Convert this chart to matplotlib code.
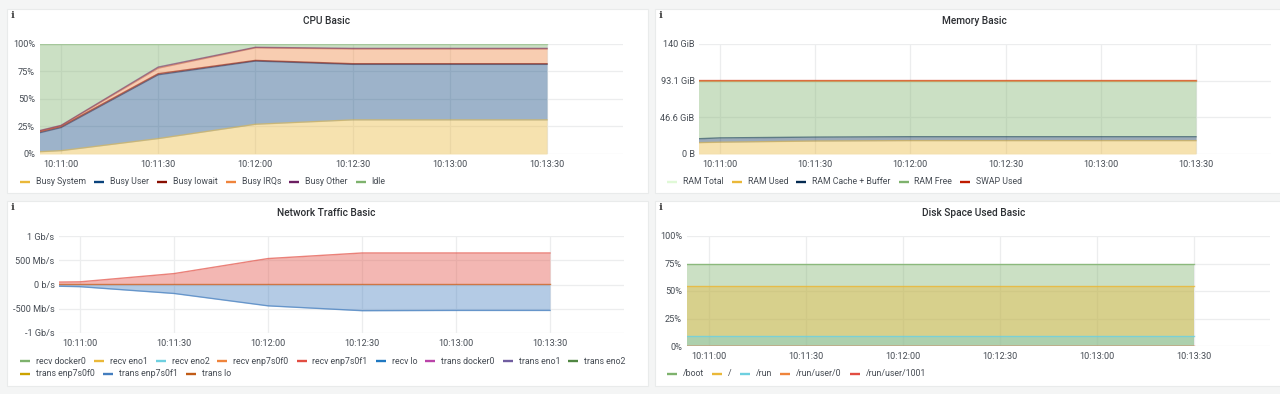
import matplotlib
matplotlib.use('Agg')
import matplotlib.pyplot as plt
from matplotlib.lines import Line2D
from matplotlib.patches import Rectangle
import numpy as np

W, H = 1280, 394
plt.rcParams['font.family'] = ['Roboto', 'DejaVu Sans']

# seconds relative to 10:11:00
times = [-7, 0, 30, 60, 90, 120, 150]
tick_secs = [0, 30, 60, 90, 120, 150]
tick_labels = ['10:11:00', '10:11:30', '10:12:00', '10:12:30', '10:13:00', '10:13:30']

cpu_labels = ['Busy System', 'Busy User', 'Busy Iowait', 'Busy IRQs', 'Busy Other', 'Idle']
cpu_colors = ['#EAB839', '#0A437C', '#890F02', '#EF843C', '#6D1F62', '#7EB26D']
cpu_system = [2, 3, 14, 27, 31, 31, 31]
cpu_user = [17, 21, 58, 57.5, 50.5, 50.5, 50.5]
cpu_iowait = [1, 1, 1, 0.6, 0.6, 0.6, 0.6]
cpu_irq = [0.6, 0.6, 5, 11.4, 13.4, 13.4, 13.4]
cpu_other = [0.4, 0.4, 1, 0.5, 0.5, 0.5, 0.5]
cpu_idle = [79, 74, 21, 3, 4, 4, 4]

mem_labels = ['RAM Total', 'RAM Used', 'RAM Cache + Buffer', 'RAM Free', 'SWAP Used']
mem_colors = ['#E0F9D7', '#EAB839', '#052B51', '#7EB26D', '#BF1B00']
mem_total = [93.1] * 7
mem_used = [14.4, 15, 16.5, 17, 17, 17, 17]
mem_cache = [5, 5.5, 5, 5, 5, 5, 5]
mem_free = [73.7, 72.6, 71.6, 71.1, 71.1, 71.1, 71.1]
mem_swap = [0.6] * 7

net_labels = ['recv docker0', 'recv eno1', 'recv eno2', 'recv enp7s0f0', 'recv enp7s0f1', 'recv lo',
              'trans docker0', 'trans eno1', 'trans eno2',
              'trans enp7s0f0', 'trans enp7s0f1', 'trans lo']
net_colors = ['#7EB26D', '#EAB839', '#6ED0E0', '#EF843C', '#E24D42', '#1F78C1',
              '#BA43A9', '#705DA0', '#508642', '#CCA300', '#447EBF', '#C15C17']
recv_f1 = [50, 55, 225, 535, 650, 650, 650]
trans_f1 = [-35, -45, -185, -440, -540, -535, -535]
lo_line = [5, 5, 5, 5, 5, 5, 5]

disk_labels = ['/boot', '/', '/run', '/run/user/0', '/run/user/1001']
disk_colors = ['#7EB26D', '#EAB839', '#6ED0E0', '#EF843C', '#E24D42']
disk_boot = [74.9] * 7
disk_root = [54.6] * 7
disk_run = [9] * 7
disk_user0 = [0.4] * 7
disk_user1001 = [0.4] * 7

fig = plt.figure(figsize=(W / 100, H / 100), dpi=100, facecolor='#f4f5f5')


def fx(x):
    return x / W


def fy(y):
    return 1 - y / H


def make_panel(x0, x1, y0, y1, title, title_x, title_y):
    fig.add_artist(Rectangle((fx(x0), fy(y1)), (x1 - x0) / W, (y1 - y0) / H, transform=fig.transFigure,
                             facecolor='white', edgecolor='#e9ebeb', linewidth=0.8, zorder=-1))
    fig.text(fx(title_x), fy(title_y), title, ha='center', va='center', fontsize=7.3,
             fontweight='medium', color='#2c2f33')
    fig.text(fx(x0 + 5.5), fy(y0 + 6), 'i', ha='center', va='center', fontsize=7.5,
             family='DejaVu Serif', fontweight='bold', color='#444444')


def make_axes(left, zero_x, step, top, bottom, ylim, yticks, yticklabels):
    # xlim follows the pixel position of the 10:11:00 tick and the 30 s spacing
    per_sec = step / 30
    x_min = -(zero_x - left) / per_sec
    x_max = 173.5
    width = (x_max - x_min) * per_sec
    ax = fig.add_axes([fx(left), fy(bottom), width / W, (bottom - top) / H])
    ax.set_xlim(x_min, x_max)
    ax.set_ylim(*ylim)
    ax.patch.set_alpha(0)
    for s in ax.spines.values():
        s.set_visible(False)
    ax.set_xticks(tick_secs, tick_labels)
    ax.set_yticks(yticks, yticklabels)
    ax.tick_params(length=0, labelsize=6.6, labelcolor='#464c54')
    ax.tick_params(axis='x', pad=4.5)
    ax.tick_params(axis='y', pad=3.2)
    ax.grid(True, color='#ecedee', linewidth=0.9)
    ax.set_axisbelow(True)
    return ax


def legend_row(x, y, labels, colors):
    renderer = fig.canvas.get_renderer()
    for label, color in zip(labels, colors):
        fig.add_artist(Line2D([fx(x), fx(x + 10)], [fy(y), fy(y)], transform=fig.transFigure,
                              color=color, linewidth=1.7, solid_capstyle='butt'))
        t = fig.text(fx(x + 16), fy(y), label, ha='left', va='center', fontsize=6.35, color='#464c54')
        x = t.get_window_extent(renderer).x1 + 8


def area(ax, base, top, color, line_alpha=0.55):
    ax.fill_between(times, base, top, color=color, alpha=0.4, linewidth=0)
    ax.plot(times, top, color=color, linewidth=1.0, alpha=line_alpha)


def stacked(ax, series, colors):
    base = np.zeros(len(times))
    for values, color in zip(series, colors):
        top = base + np.array(values)
        area(ax, base, top, color)
        base = top


# CPU
make_panel(7, 648, 9, 193, 'CPU Basic', 326.5, 20.5)
ax = make_axes(39.5, 61, 97.2, 44, 154, (0, 100), [0, 25, 50, 75, 100], ['0%', '25%', '50%', '75%', '100%'])
stacked(ax, [cpu_system, cpu_user, cpu_iowait, cpu_irq, cpu_other, cpu_idle], cpu_colors)
legend_row(20, 181.5, cpu_labels, cpu_colors)

# Memory
make_panel(655, 1290, 9, 193, 'Memory Basic', 974, 20.5)
ax = make_axes(699, 720, 95.2, 44, 154, (0, 140), [0, 46.6, 93.1, 140], ['0 B', '46.6 GiB', '93.1 GiB', '140 GiB'])
stacked(ax, [mem_used, mem_cache, mem_free, mem_swap], mem_colors[1:])
ax.plot(times, mem_total, color='#EF843C', linewidth=1.4, alpha=0.5)
legend_row(667, 181.5, mem_labels, mem_colors)

# Network
make_panel(7, 648, 201, 386, 'Network Traffic Basic', 326.5, 212.5)
ax = make_axes(59, 80, 94, 236, 333, (-1000, 1000), [-1000, -500, 0, 500, 1000],
               ['-1 Gb/s', '-500 Mb/s', '0 b/s', '500 Mb/s', '1 Gb/s'])
area(ax, 0, recv_f1, net_colors[4], 0.7)
area(ax, 0, trans_f1, net_colors[10], 0.7)
ax.plot(times, lo_line, color=net_colors[11], linewidth=1.0, alpha=0.7)
legend_row(20, 361, net_labels[:9], net_colors[:9])
legend_row(20, 374, net_labels[9:], net_colors[9:])

# Disk
make_panel(655, 1290, 201, 386, 'Disk Space Used Basic', 974, 212.5)
ax = make_axes(686.5, 708.6, 97.1, 236, 346, (0, 100), [0, 25, 50, 75, 100], ['0%', '25%', '50%', '75%', '100%'])
for values, color in zip([disk_boot, disk_root, disk_run, disk_user0, disk_user1001], disk_colors):
    area(ax, 0, values, color, 0.8)
legend_row(667, 373.7, disk_labels, disk_colors)

fig.savefig('out.png', dpi=100, facecolor=fig.get_facecolor())
